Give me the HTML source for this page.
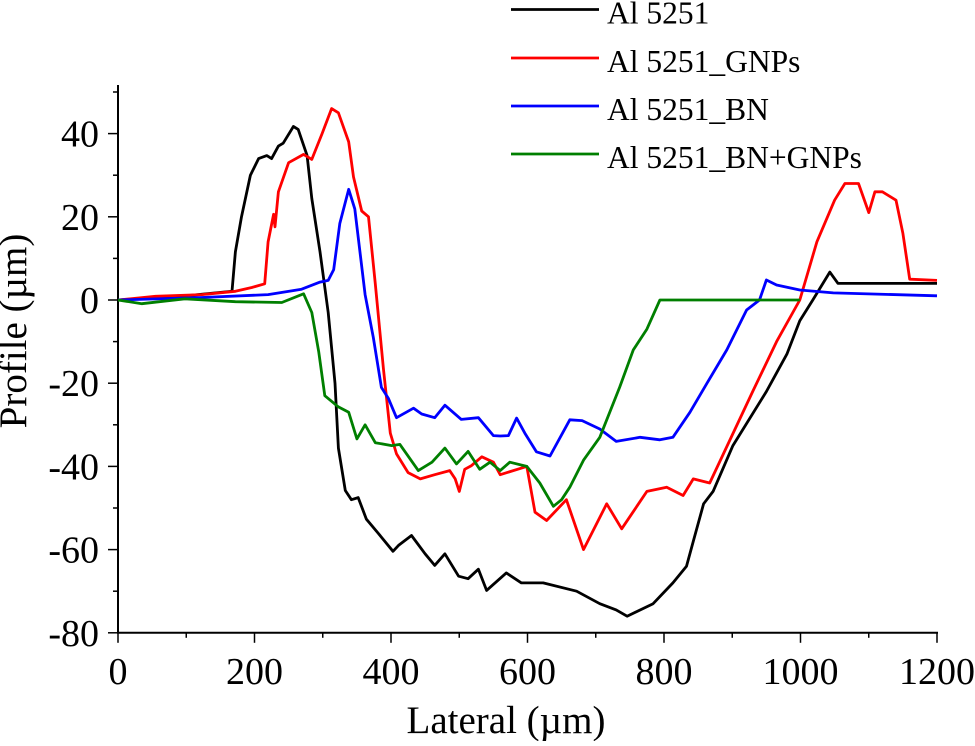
<!DOCTYPE html>
<html><head><meta charset="utf-8"><style>
body{margin:0;background:#fff;}
svg text{font-family:"Liberation Serif",serif;fill:#000;}
</style></head><body>
<svg id="chart" width="975" height="741" xmlns="http://www.w3.org/2000/svg">
<g id="axes"></g><g id="series"></g><g id="legend"></g>
</svg>
<script>
const seriesNames=["Al 5251","Al 5251_GNPs","Al 5251_BN","Al 5251_BN+GNPs"];
const seriesColors=["#000000","#ff0000","#0000ff","#007f00"];
const xTicks=[0,200,400,600,800,1000,1200];
const yTicks=[40,20,0,-20,-40,-60,-80];
const blackX=[0,100,167,172,181,194,206,218,225,235,242,257,264,277,284,296,308,318,323,333,342,352,364,381,403,411,430,450,464,479,499,513,528,540,569,591,623,672,706,730,746,784,813,833,843,858,872,901,950,980,999,1018,1043,1055,1100,1200];
const blackY=[0,1,2.1,11.6,20,30,34,34.7,34,37,37.7,41.7,41,34.7,24.4,11.6,-3,-20,-35.6,-45.8,-48,-47.5,-52.7,-56,-60.4,-59,-56.6,-61,-63.8,-61,-66.4,-67,-64.7,-69.8,-65.6,-68,-68,-70,-73,-74.5,-76,-73,-68,-64,-58,-49,-46,-35,-22,-13,-5,0,6.7,4,4,4];
const redX=[0,55,123,172,196,215,220,228,230,235,250,272,284,299,313,323,338,345,357,367,377,389,399,408,425,443,464,486,494,500,508,518,533,550,560,599,611,628,657,682,716,738,775,804,828,843,867,887,930,965,999,1024,1050,1065,1085,1100,1109,1120,1140,1150,1160,1200];
const redY=[0,0.9,1.3,2.1,3,3.9,14,20.6,17.6,26,33,35,33.8,40,46,45,38,29.6,21.4,20,3.9,-16.7,-32,-37,-41.5,-43,-42,-41,-43,-46,-40.7,-39.8,-37.7,-39,-42,-40,-51,-53,-48,-60,-49,-55,-46,-45,-47,-43,-44,-37,-22,-10,0,14,24,28,28,21,26,26,24,16,5,4.7];
const blueX=[0,123,220,269,296,308,316,325,338,347,362,374,386,396,408,433,445,464,479,503,528,550,560,572,584,596,613,633,662,680,706,730,765,794,813,838,863,892,921,940,950,965,999,1048,1200];
const blueY=[0,0.6,1.3,2.6,4.3,4.7,7.3,18.4,26.6,21.9,1.3,-9,-21,-23.6,-28.3,-26,-27.4,-28.3,-25.3,-28.7,-28.3,-32.6,-32.7,-32.6,-28.4,-32,-36.5,-37.5,-28.8,-29,-31,-34,-33,-33.6,-33,-27,-20,-12,-2.4,0,4.8,3.6,2.4,1.7,1];
const greenX=[0,35,98,172,240,272,284,294,303,323,338,350,362,377,401,413,440,460,479,496,513,530,545,560,574,599,618,638,650,662,682,706,735,755,775,794,900,999];
const greenY=[0,-0.9,0.3,-0.4,-0.6,1.5,-3,-12.4,-23,-25.7,-27,-33.4,-30,-34.3,-35,-34.7,-41,-39,-35.6,-39.4,-36.4,-40.7,-39,-41,-39,-40,-44,-49.6,-48,-45,-38.5,-33,-21,-12,-7,0,0,0];
const allX=[blackX,redX,blueX,greenX], allY=[blackY,redY,blueY,greenY];
const NS="http://www.w3.org/2000/svg";
const X0=118,XW=819,Y0=300,YS=4.16;
const sx=v=>X0+v/1200*XW, sy=v=>Y0-v*YS;
function mk(tag,attrs,parent){const e=document.createElementNS(NS,tag);for(const k in attrs)e.setAttribute(k,attrs[k]);parent.appendChild(e);return e;}
const axes=document.getElementById('axes');
let yax=mk('line',{x1:X0,y1:85,x2:X0,y2:sy(-80),stroke:'#000','stroke-width':2},axes);


let xax=mk('line',{x1:X0-1,y1:sy(-80),x2:sx(1200)+1,y2:sy(-80),stroke:'#000','stroke-width':2},axes);


for(let v=-80;v<=50;v+=10){const maj=v%20===0;mk('line',{x1:X0,x2:X0-(maj?10:5),y1:sy(v),y2:sy(v),stroke:'#000','stroke-width':1.5},axes);}
for(let v=0;v<=1200;v+=100){const maj=v%200===0;mk('line',{x1:sx(v),x2:sx(v),y1:sy(-80),y2:sy(-80)+(maj?10:5),stroke:'#000','stroke-width':1.5},axes);}
yTicks.forEach(v=>{const t=mk('text',{x:99,y:sy(v)+13,'text-anchor':'end','font-size':38},axes);t.textContent=v;

});
xTicks.forEach(v=>{const t=mk('text',{x:sx(v),y:684,'text-anchor':'middle','font-size':38},axes);t.textContent=v;

});
let xt=mk('text',{x:506,y:733,'text-anchor':'middle','font-size':39},axes);xt.textContent='Lateral (µm)';


let yt=mk('text',{x:26,y:331,'text-anchor':'middle','font-size':39,transform:'rotate(-90 26 331)'},axes);yt.textContent='Profile (µm)';


const sg=document.getElementById('series');
for(let i=0;i<4;i++){const d=allX[i].map((x,j)=>(j?'L':'M')+sx(x).toFixed(1)+' '+sy(allY[i][j]).toFixed(1)).join(' ');
const p=mk('path',{d:d,fill:'none',stroke:seriesColors[i],'stroke-width':2.8,'stroke-linejoin':'round'},sg);

}
const lg=document.getElementById('legend');
const ly=[9.5,58,106,154];
for(let i=0;i<4;i++){
const g=mk('g',{},lg);


mk('line',{x1:511,x2:599,y1:ly[i],y2:ly[i],stroke:seriesColors[i],'stroke-width':2.8},g);
const t=mk('text',{x:607,y:ly[i]+14,'font-size':31.5},g);t.textContent=seriesNames[i];}
</script>
</body></html>
